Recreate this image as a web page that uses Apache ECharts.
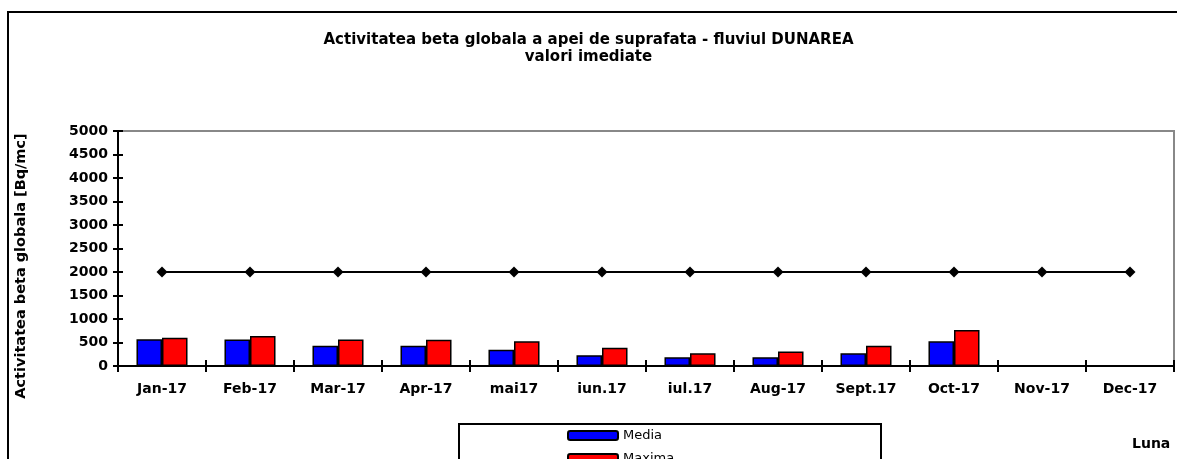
<!DOCTYPE html>
<html>
<head>
<meta charset="utf-8">
<script src="https://cdn.jsdelivr.net/npm/echarts@6/dist/echarts.min.js"></script>
<style>
  html, body { margin: 0; padding: 0; background: #fff; }
  #chart { width: 1177px; height: 459px; }
</style>
</head>
<body>
<div id="chart"></div>
<script>
// date
var luni = ['Jan-17', 'Feb-17', 'Mar-17', 'Apr-17', 'mai17', 'iun.17', 'iul.17', 'Aug-17', 'Sept.17', 'Oct-17', 'Nov-17', 'Dec-17'];
var media = [570, 565, 430, 430, 345, 230, 185, 185, 270, 525, null, null];
var maxima = [600, 640, 565, 560, 525, 390, 270, 310, 430, 765, null, null];
var limita = [2000, 2000, 2000, 2000, 2000, 2000, 2000, 2000, 2000, 2000, 2000, 2000];

var font = 'DejaVu Sans, Verdana, sans-serif';

var myChart = echarts.init(document.getElementById('chart'));
option = {
    animation: false,
    backgroundColor: '#fff',
    title: {
        text: 'Activitatea beta globala a apei de suprafata - fluviul DUNAREA\nvalori imediate',
        left: 'center',
        top: 27,
        textStyle: {
            fontFamily: font,
            fontSize: 15,
            fontWeight: 'bold',
            color: '#000',
            lineHeight: 17
        }
    },
    legend: {
        orient: 'vertical',
        left: 567,
        top: 429,
        height: 80,
        itemWidth: 50,
        itemHeight: 9,
        itemGap: 10,
        padding: 0,
        data: ['Media', 'Maxima'],
        textStyle: { fontFamily: font, fontSize: 13, color: '#000' }
    },
    grid: {
        left: 118,
        top: 131,
        right: 3,
        bottom: 93,
        show: true,
        borderColor: '#888',
        borderWidth: 2
    },
    xAxis: [{
        type: 'category',
        data: luni,
        axisLine: { lineStyle: { color: '#000', width: 2 } },
        axisTick: { show: true, length: 6, lineStyle: { color: '#000', width: 2 } },
        axisLabel: { fontFamily: font, fontSize: 14, fontWeight: 'bold', color: '#000', margin: 16 }
    }, {
        type: 'category',
        data: luni,
        position: 'bottom',
        axisLine: { show: false },
        axisTick: { show: true, inside: true, length: 6, lineStyle: { color: '#000', width: 2 } },
        axisLabel: { show: false }
    }],
    yAxis: [{
        type: 'value',
        min: 0,
        max: 5000,
        interval: 500,
        splitLine: { show: false },
        axisLine: { show: true, lineStyle: { color: '#000', width: 2 } },
        axisTick: { show: true, length: 5, lineStyle: { color: '#000', width: 2 } },
        axisLabel: {
            fontFamily: font, fontSize: 14, fontWeight: 'bold', color: '#000', margin: 10,
            formatter: function (v) { return String(v); }
        }
    }, {
        type: 'value',
        min: 0,
        max: 5000,
        interval: 500,
        position: 'left',
        splitLine: { show: false },
        axisLine: { show: false },
        axisTick: { show: true, inside: true, length: 5, lineStyle: { color: '#000', width: 2 } },
        axisLabel: { show: false }
    }],
    series: [
        {
            name: 'Media',
            type: 'bar',
            data: media,
            barGap: '0%',
            barCategoryGap: '42%',
            itemStyle: { color: '#0000ff', borderColor: '#000', borderWidth: 1.5 }
        },
        {
            name: 'Maxima',
            type: 'bar',
            data: maxima,
            itemStyle: { color: '#ff0000', borderColor: '#000', borderWidth: 1.5 }
        },
        {
            name: 'Limita',
            type: 'line',
            data: limita,
            symbol: 'diamond',
            symbolSize: 11,
            lineStyle: { color: '#000', width: 2 },
            itemStyle: { color: '#000' }
        }
    ],
    graphic: [
        // rama exterioara
        {
            type: 'rect',
            shape: { x: 8, y: 12, width: 1200, height: 500 },
            style: { fill: null, stroke: '#000', lineWidth: 2 },
            silent: true
        },
        // caseta legendei
        {
            type: 'rect',
            shape: { x: 459, y: 424, width: 422, height: 60 },
            style: { fill: null, stroke: '#000', lineWidth: 2 },
            silent: true
        },
        {
            type: 'text',
            x: 21,
            y: 266,
            rotation: Math.PI / 2,
            style: {
                text: 'Activitatea beta globala [Bq/mc]',
                font: 'bold 14.5px ' + font,
                fill: '#000',
                align: 'center',
                verticalAlign: 'middle'
            }
        },
        {
            type: 'text',
            x: 1132,
            y: 444,
            style: {
                text: 'Luna',
                font: 'bold 14px ' + font,
                fill: '#000',
                verticalAlign: 'middle'
            }
        }
    ]
};
myChart.setOption(option);
</script>
</body>
</html>
